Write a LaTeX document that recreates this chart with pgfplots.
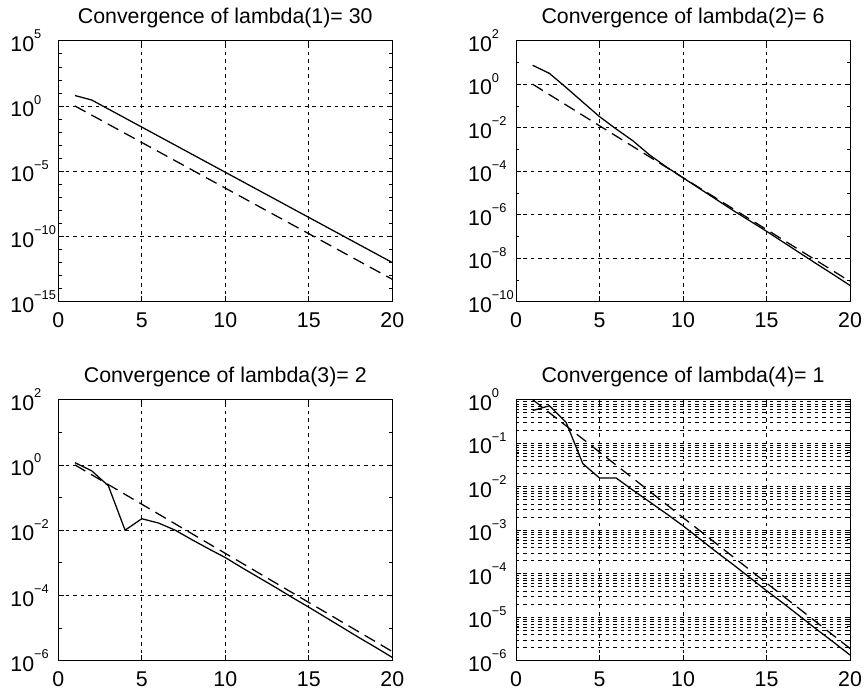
\documentclass[border=0pt]{standalone}
\usepackage{pgfplots}
\pgfplotsset{compat=1.18}
\usepackage{fontspec}
\setmainfont{Liberation Sans}
\newcommand{\ee}[1]{10\rlap{\raisebox{9.5pt}{\fontsize{9.6}{10}\selectfont #1}}}
\pgfplotsset{
  every axis/.append style={
    scale only axis, width=250.5pt, height=195.75pt, anchor=south west,
    xmin=0, xmax=20, xtick={0,5,10,15,20}, xticklabels={0,5,10,15,20},
    tick align=inside, axis line style={line width=0.75pt},
    major tick length=4pt, minor tick length=2.5pt,
    tick style={black, line width=0.5pt},
    major grid style={black, line width=0.45pt, dash pattern=on 2.6pt off 3pt},
    minor grid style={black, line width=0.45pt, dash pattern=on 2.6pt off 3pt},
    title style={font=\fontsize{16}{19}\selectfont},
    tick label style={font=\fontsize{16}{19}\selectfont},
    yticklabel style={xshift=-14.5pt},
    xticklabel style={yshift=-4.5pt},
  },
}
\tikzset{
  sol/.style={black, line width=0.95pt},
  das/.style={black, line width=0.95pt, dash pattern=on 9pt off 5pt},
}
\begin{document}
\begin{tikzpicture}
\path[use as bounding box] (0,0) rectangle (649.5pt,520.5pt);

% Panel 1
\begin{axis}[ymode=log, grid=major, at={(43.7pt,294.2pt)},
  title={Convergence of lambda(1)= 30},
  ymin=1e-15, ymax=1e5,
  ytick={1e-15,1e-10,1e-5,1,1e5},
  yticklabels={\ee{−15},\ee{−10},\ee{−5},\ee{0},\ee{5}},
  minor ytick={1e-14,1e-13,1e-12,1e-11,1e-9,1e-8,1e-7,1e-6,1e-4,1e-3,1e-2,1e-1,1e1,1e2,1e3,1e4}]
\addplot[sol, mark=none] coordinates {(1,6.31) (2,2.88) (3,0.586) (4,0.119) (5,2.42e-2) (6,4.92e-3) (7,1.00e-3) (8,2.03e-4) (9,4.13e-5) (10,8.39e-6) (11,1.71e-6) (12,3.47e-7) (13,7.05e-8) (14,1.43e-8) (15,2.91e-9) (16,5.92e-10) (17,1.20e-10) (18,2.44e-11) (19,4.97e-12) (20,1.01e-12)};
\addplot[das, mark=none] coordinates {(1,1) (2,0.2) (3,0.04) (4,8e-3) (5,1.6e-3) (6,3.2e-4) (7,6.4e-5) (8,1.28e-5) (9,2.56e-6) (10,5.12e-7) (11,1.024e-7) (12,2.048e-8) (13,4.096e-9) (14,8.19e-10) (15,1.64e-10) (16,3.28e-11) (17,6.55e-12) (18,1.31e-12) (19,2.62e-13) (20,5.24e-14)};
\end{axis}

% Panel 2
\begin{axis}[ymode=log, grid=major, at={(387pt,294.2pt)},
  title={Convergence of lambda(2)= 6},
  ymin=1e-10, ymax=1e2,
  ytick={1e-10,1e-8,1e-6,1e-4,1e-2,1,1e2},
  yticklabels={\ee{−10},\ee{−8},\ee{−6},\ee{−4},\ee{−2},\ee{0},\ee{2}},
  minor ytick={1e-9,1e-7,1e-5,1e-3,1e-1,1e1}]
\addplot[sol, mark=none] coordinates {(1,7.41) (2,3.16) (3,0.708) (4,0.151) (5,3.24e-2) (6,8.71e-3) (7,2.51e-3) (8,5.62e-4) (9,1.58e-4) (10,5.01e-5) (11,1.58e-5) (12,5.01e-6) (13,1.58e-6) (14,5.25e-7) (15,1.74e-7) (16,5.50e-8) (17,1.74e-8) (18,5.50e-9) (19,1.78e-9) (20,5.62e-10)};
\addplot[das, mark=none] coordinates {(1,1) (2,0.3333) (3,0.1111) (4,3.704e-2) (5,1.235e-2) (6,4.115e-3) (7,1.372e-3) (8,4.572e-4) (9,1.524e-4) (10,5.081e-5) (11,1.694e-5) (12,5.645e-6) (13,1.882e-6) (14,6.272e-7) (15,2.091e-7) (16,6.969e-8) (17,2.323e-8) (18,7.744e-9) (19,2.581e-9) (20,8.604e-10)};
\end{axis}

% Panel 3
\begin{axis}[ymode=log, grid=major, at={(43.7pt,25pt)},
  title={Convergence of lambda(3)= 2},
  ymin=1e-6, ymax=1e2,
  ytick={1e-6,1e-4,1e-2,1,1e2},
  yticklabels={\ee{−6},\ee{−4},\ee{−2},\ee{0},\ee{2}},
  minor ytick={1e-5,1e-3,1e-1,1e1}]
\addplot[sol, mark=none] coordinates {(1,1.17) (2,0.661) (3,0.229) (4,1.0e-2) (5,2.24e-2) (6,1.66e-2) (7,1.0e-2) (8,5.13e-3) (9,2.69e-3) (10,1.45e-3) (11,7.08e-4) (12,3.55e-4) (13,1.78e-4) (14,8.71e-5) (15,4.37e-5) (16,2.14e-5) (17,1.05e-5) (18,5.13e-6) (19,2.57e-6) (20,1.26e-6)};
\addplot[das, mark=none] coordinates {(1,1) (2,0.5) (3,0.25) (4,0.125) (5,0.0625) (6,0.03125) (7,0.015625) (8,7.8125e-3) (9,3.90625e-3) (10,1.953e-3) (11,9.766e-4) (12,4.883e-4) (13,2.441e-4) (14,1.221e-4) (15,6.104e-5) (16,3.052e-5) (17,1.526e-5) (18,7.629e-6) (19,3.815e-6) (20,1.907e-6)};
\end{axis}

% Panel 4
\begin{axis}[ymode=log, grid=both, at={(387pt,25pt)},
  title={Convergence of lambda(4)= 1},
  ymin=1e-6, ymax=1,
  ytick={1e-6,1e-5,1e-4,1e-3,1e-2,1e-1,1},
  yticklabels={\ee{−6},\ee{−5},\ee{−4},\ee{−3},\ee{−2},\ee{−1},\ee{0}}]
\addplot[sol, mark=none] coordinates {(1,0.562) (2,0.724) (3,0.302) (4,3.39e-2) (5,1.58e-2) (6,1.58e-2) (7,8.32e-3) (8,4.47e-3) (9,2.40e-3) (10,1.26e-3) (11,6.31e-4) (12,3.16e-4) (13,1.62e-4) (14,8.13e-5) (15,4.07e-5) (16,2.09e-5) (17,1.05e-5) (18,5.25e-6) (19,2.69e-6) (20,1.35e-6)};
\addplot[das, mark=none] coordinates {(1,1) (2,0.5) (3,0.25) (4,0.125) (5,0.0625) (6,0.03125) (7,0.015625) (8,7.8125e-3) (9,3.90625e-3) (10,1.953e-3) (11,9.766e-4) (12,4.883e-4) (13,2.441e-4) (14,1.221e-4) (15,6.104e-5) (16,3.052e-5) (17,1.526e-5) (18,7.629e-6) (19,3.815e-6) (20,1.907e-6)};
\end{axis}
\end{tikzpicture}
\end{document}
